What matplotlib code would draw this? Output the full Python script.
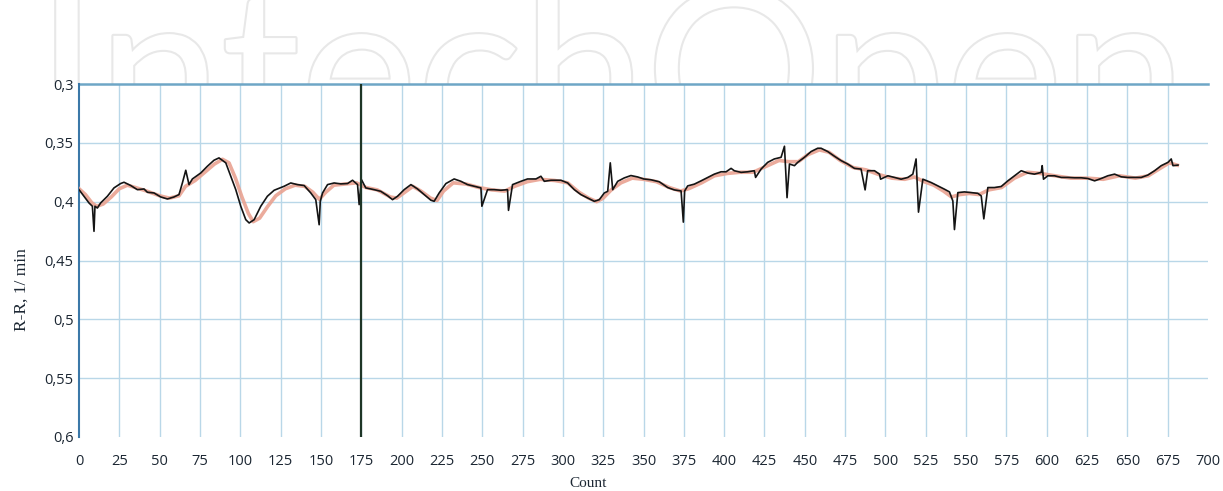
import matplotlib
matplotlib.use('Agg')
import matplotlib.pyplot as plt
import matplotlib.patheffects as pe

# ---------------- data ----------------
rr_count = [0, 3.1, 6.2, 8.3, 9.3, 9.9, 11.4, 13.4, 17.6, 21.7, 25.8, 27.9, 32.1, 36.2,
            40.3, 42.4, 46.5, 50.7, 54.8, 58.9, 62.0, 64.1, 66.2, 68.2, 70.3, 75.5,
            79.6, 83.7, 86.8, 91.0, 94.1, 97.2, 100.3, 103.4, 105.5, 108.6, 112.7,
            116.8, 121.0, 127.2, 131.3, 135.4, 139.6, 143.7, 146.8, 148.9, 149.6,
            151.0, 154.1, 158.2, 162.3, 166.5, 169.6, 172.7, 173.7, 175.1, 177.8,
            183.0, 187.1, 191.3, 194.4, 197.5, 201.6, 205.8, 209.9, 214.0, 218.2,
            220.2, 223.3, 227.5, 232.6, 236.8, 240.9, 245.0, 249.2, 249.8, 253.3,
            257.4, 261.6, 265.7, 266.3, 268.8, 274.0, 278.1, 283.3, 286.4, 288.5,
            292.6, 298.8, 303.0, 307.1, 311.2, 315.3, 319.5, 322.6, 325.7, 327.8,
            329.4, 330.9, 334.0, 338.1, 342.2, 346.4, 350.1, 354.6, 359.8, 365.0,
            369.1, 373.3, 374.7, 375.5, 377.4, 381.5, 385.7, 389.8, 393.9, 398.1,
            401.2, 404.3, 406.3, 410.5, 414.6, 418.7, 419.5, 422.9, 427.0, 431.1,
            435.3, 437.4, 439.0, 440.5, 443.6, 445.6, 449.8, 453.9, 458.0, 460.1,
            464.2, 468.4, 472.5, 476.6, 480.8, 484.9, 487.4, 489.0, 493.2, 496.3,
            497.0, 501.5, 505.6, 509.7, 513.9, 517.0, 519.0, 520.5, 523.2, 528.3,
            532.5, 536.6, 539.7, 541.8, 542.8, 544.9, 549.0, 553.2, 557.3, 559.4,
            561.0, 563.5, 567.6, 571.8, 575.9, 580.0, 584.2, 588.3, 592.4, 596.6,
            597.2, 598.0, 600.7, 604.8, 609.0, 613.1, 617.3, 621.4, 625.5, 629.7,
            633.8, 637.9, 642.1, 646.2, 650.3, 654.5, 658.6, 662.7, 666.9, 671.0,
            675.2, 677.2, 678.3, 681.4]
rr_value = [0.3898, 0.3954, 0.4011, 0.4039, 0.4252, 0.4039, 0.4054, 0.4011, 0.3954, 0.3883,
            0.3846, 0.3835, 0.3863, 0.3898, 0.3892, 0.3920, 0.3926, 0.3960, 0.3977,
            0.3960, 0.3940, 0.3841, 0.3733, 0.3855, 0.3807, 0.3756, 0.3699, 0.3648,
            0.3628, 0.3670, 0.3784, 0.3898, 0.4039, 0.4153, 0.4181, 0.4153, 0.4039,
            0.3954, 0.3903, 0.3869, 0.3841, 0.3855, 0.3863, 0.3926, 0.3983, 0.4196,
            0.3997, 0.3926, 0.3855, 0.3841, 0.3849, 0.3846, 0.3818, 0.3855, 0.4025,
            0.3812, 0.3883, 0.3898, 0.3912, 0.3949, 0.3983, 0.3954, 0.3898, 0.3855,
            0.3892, 0.3940, 0.3988, 0.3997, 0.3926, 0.3846, 0.3807, 0.3827, 0.3855,
            0.3869, 0.3883, 0.4039, 0.3898, 0.3898, 0.3903, 0.3898, 0.4074, 0.3855,
            0.3827, 0.3807, 0.3807, 0.3784, 0.3827, 0.3818, 0.3818, 0.3841, 0.3898,
            0.3940, 0.3968, 0.3997, 0.3983, 0.3926, 0.3912, 0.3670, 0.3898, 0.3827,
            0.3798, 0.3778, 0.3790, 0.3807, 0.3814, 0.3831, 0.3880, 0.3900, 0.3909,
            0.4174, 0.3909, 0.3866, 0.3851, 0.3823, 0.3794, 0.3766, 0.3746, 0.3746,
            0.3717, 0.3737, 0.3751, 0.3746, 0.3737, 0.3794, 0.3723, 0.3666, 0.3637,
            0.3623, 0.3529, 0.3966, 0.3680, 0.3694, 0.3666, 0.3623, 0.3574, 0.3546,
            0.3546, 0.3574, 0.3614, 0.3651, 0.3680, 0.3717, 0.3723, 0.3900, 0.3737,
            0.3737, 0.3766, 0.3809, 0.3780, 0.3794, 0.3809, 0.3794, 0.3766, 0.3637,
            0.4089, 0.3809, 0.3837, 0.3866, 0.3894, 0.3917, 0.3994, 0.4237, 0.3923,
            0.3917, 0.3923, 0.3929, 0.3951, 0.4146, 0.3880, 0.3880, 0.3871, 0.3823,
            0.3780, 0.3737, 0.3757, 0.3766, 0.3751, 0.3694, 0.3809, 0.3780, 0.3780,
            0.3794, 0.3794, 0.3797, 0.3797, 0.3803, 0.3823, 0.3803, 0.3780, 0.3766,
            0.3789, 0.3794, 0.3794, 0.3794, 0.3774, 0.3737, 0.3694, 0.3666, 0.3637,
            0.3694, 0.3689]

smooth_count = [0, 4, 8, 11, 15, 20, 25, 30, 35, 42, 50, 56, 62, 66, 72, 78, 84, 89, 93,
                97, 101, 105, 108, 112, 117, 122, 128, 134, 140, 145, 149, 153, 158, 165,
                172, 178, 185, 193, 197, 202, 207, 212, 218, 222, 226, 232, 240, 248, 256,
                264, 270, 278, 286, 295, 303, 310, 316, 321, 325, 330, 336, 343, 350, 358,
                366, 373, 378, 386, 394, 402, 410, 418, 426, 434, 440, 446, 452, 459, 465,
                472, 480, 488, 496, 504, 512, 518, 524, 530, 536, 541, 546, 552, 558, 564,
                572, 580, 588, 596, 605, 615, 625, 635, 645, 655, 663, 670, 676, 681]
smooth_value = [0.389, 0.394, 0.401, 0.404, 0.402, 0.396, 0.389, 0.386, 0.388, 0.391, 0.395,
                0.397, 0.395, 0.387, 0.382, 0.375, 0.368, 0.364, 0.367, 0.380, 0.396, 0.410,
                0.417, 0.414, 0.404, 0.395, 0.389, 0.386, 0.387, 0.392, 0.398, 0.392, 0.386,
                0.385, 0.384, 0.388, 0.390, 0.396, 0.397, 0.392, 0.387, 0.391, 0.397, 0.399,
                0.391, 0.384, 0.385, 0.388, 0.390, 0.391, 0.387, 0.383, 0.381, 0.382, 0.384,
                0.392, 0.397, 0.400, 0.397, 0.390, 0.384, 0.380, 0.381, 0.383, 0.388, 0.391,
                0.389, 0.384, 0.378, 0.376, 0.375, 0.375, 0.370, 0.365, 0.366, 0.366, 0.360,
                0.356, 0.358, 0.365, 0.371, 0.373, 0.377, 0.380, 0.381, 0.379, 0.383, 0.386,
                0.391, 0.396, 0.394, 0.393, 0.394, 0.390, 0.388, 0.380, 0.375, 0.376, 0.378,
                0.380, 0.380, 0.381, 0.378, 0.380, 0.378, 0.372, 0.367, 0.369]

x_ticks = list(range(0, 701, 25))
y_ticks = [0.3, 0.35, 0.4, 0.45, 0.5, 0.55, 0.6]
y_tick_labels = ['0,3', '0,35', '0,4', '0,45', '0,5', '0,55', '0,6']
cursor_count = 175
x_title = 'Count'
y_title = 'R-R, 1/ min'
watermark = 'IntechOpen'

# ---------------- figure ----------------
W, H = 1223, 491
fig = plt.figure(figsize=(W / 100, H / 100), dpi=100)
fig.patch.set_facecolor('white')

# watermark strip above the chart (outlined letters cut by the chart)
wm = fig.add_axes([0, 1 - 84 / H, 1, 84 / H])
wm.set_axis_off()
wm.set_xlim(0, W)
wm.set_ylim(84, 0)
fs0 = 140
t = wm.text(36, 140, watermark, fontsize=fs0, family='Lato', color='white',
            ha='left', va='baseline', clip_on=True,
            path_effects=[pe.withStroke(linewidth=3, foreground='#e8e8e8')])
fig.canvas.draw()
bb = t.get_window_extent()
fs = fs0 * 1150 / bb.width
t.set_fontsize(fs)
em = fs * 100 / 72
t.set_y(36 + 0.506 * em)

# main axes
L, R, T, B = 79, 1208, 84, 437
ax = fig.add_axes([L / W, 1 - B / H, (R - L) / W, (B - T) / H])
ax.set_facecolor('white')
ax.set_xlim(x_ticks[0], x_ticks[-1])
ax.set_ylim(y_ticks[-1], y_ticks[0])

grid_c = '#b9d7e8'
ax.vlines(x_ticks[1:-1], y_ticks[0], y_ticks[-1], colors=grid_c, lw=1.0, zorder=1)
ax.hlines(y_ticks[1:-1], x_ticks[0], x_ticks[-1], colors=grid_c, lw=1.0, zorder=1)
ax.axhline(y_ticks[0], color='#6ea6c6', lw=1.8, clip_on=False, zorder=2)

ax.plot(smooth_count, smooth_value, color='#e9a291', lw=2.6, alpha=0.9,
        solid_joinstyle='round', zorder=3)
ax.plot(rr_count, rr_value, color='#141414', lw=1.2, zorder=4)
ax.axvline(cursor_count, color='#1e3526', lw=1.6, zorder=5)

for s in ['top', 'right', 'bottom']:
    ax.spines[s].set_visible(False)
ax.spines['left'].set_color('#3b78a8')
ax.spines['left'].set_linewidth(1.5)

ax.set_xticks(x_ticks)
ax.set_xticklabels([str(v) for v in x_ticks])
ax.set_yticks(y_ticks)
ax.set_yticklabels(y_tick_labels)
ax.tick_params(axis='both', length=0, labelsize=10.5, colors='#1c2733')
ax.tick_params(axis='x', pad=12)
ax.tick_params(axis='y', pad=4)
for lab in ax.get_xticklabels() + ax.get_yticklabels():
    lab.set_family('Open Sans')

ax.set_xlabel(x_title, family='Liberation Serif', fontsize=11, color='#1c2733')
ax.xaxis.set_label_coords((588 - L) / (R - L), -(477 - B) / (B - T))
ax.set_ylabel(y_title, family='Liberation Serif', fontsize=12.5, color='#1c2733')
ax.yaxis.set_label_coords((30 - L) / (R - L), (B - 290) / (B - T))

fig.savefig('out.png', dpi=100, facecolor='white')
